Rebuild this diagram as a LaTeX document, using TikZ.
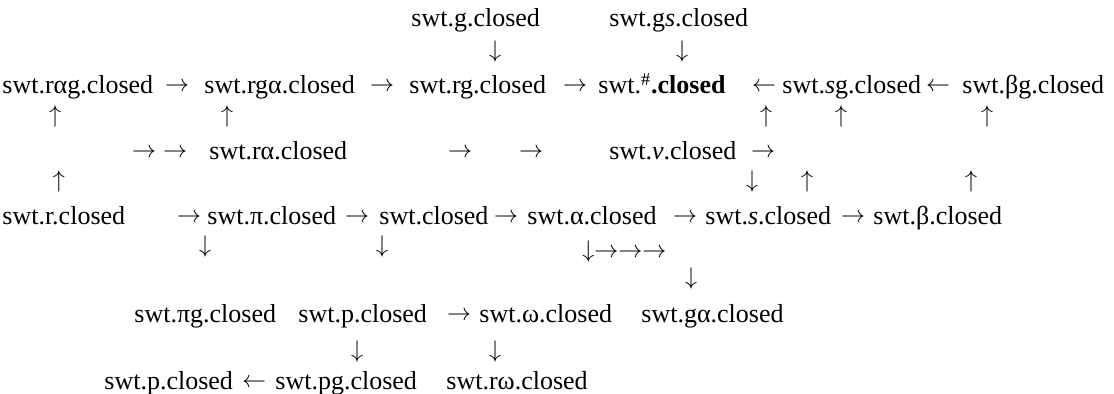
\documentclass[tikz,border=0pt]{standalone}
\usepackage{fontspec}
\setmainfont{Liberation Serif}
\begin{document}
\begin{tikzpicture}[x=0.5pt,y=-0.5pt,
    every node/.style={inner sep=0pt,font=\fontsize{13}{15.6}\selectfont},
    lbl/.style={anchor=base west},
    arr/.style={anchor=center}]
    \useasboundingbox (0,0) rectangle (1114,394);
    % top row
    \node (gcl) at (411,27) [lbl] {swt.g.closed};
    \node (gscl) at (609,27) [lbl] {swt.g\textit{s}.closed};
    \node (d1) at (495,52) [arr] {$\downarrow$};
    \node (d2) at (682,52) [arr] {$\downarrow$};
    % main row
    \node (ragcl) at (2,94) [lbl] {swt.rαg.closed};
    \node (h1) at (177,87) [arr] {$\rightarrow$};
    \node (rgacl) at (204,94) [lbl] {swt.rgα.closed};
    \node (h2) at (382,87) [arr] {$\rightarrow$};
    \node (rgcl) at (409,94) [lbl] {swt.rg.closed};
    \node (h3) at (575,87) [arr] {$\rightarrow$};
    \node (shcl) at (598,94) [lbl] {swt.\textsuperscript{\#}\textbf{.closed}};
    \node (h4) at (764,87) [arr] {$\leftarrow$};
    \node (sgcl) at (782,94) [lbl] {swt.\textit{s}g.closed};
    \node (h5) at (938,87) [arr] {$\leftarrow$};
    \node (bgcl) at (962,94) [lbl] {swt.βg.closed};
    \node (u1) at (55,117) [arr] {$\uparrow$};
    \node (u2) at (227,117) [arr] {$\uparrow$};
    \node (u3) at (766,117) [arr] {$\uparrow$};
    \node (u4) at (841,117) [arr] {$\uparrow$};
    \node (u5) at (987,117) [arr] {$\uparrow$};
    % middle row
    \node (h6) at (144,153) [arr] {$\rightarrow$};
    \node (h7) at (175,153) [arr] {$\rightarrow$};
    \node (racl) at (209,160) [lbl] {swt.rα.closed};
    \node (h8) at (460,153) [arr] {$\rightarrow$};
    \node (h9) at (531,153) [arr] {$\rightarrow$};
    \node (vcl) at (609,160) [lbl] {swt.\textit{v}.closed};
    \node (h10) at (763,153) [arr] {$\rightarrow$};
    \node (u6) at (59,182) [arr] {$\uparrow$};
    \node (d3) at (752,182) [arr] {$\downarrow$};
    \node (u7) at (807,182) [arr] {$\uparrow$};
    \node (u8) at (971,182) [arr] {$\uparrow$};
    % lower row
    \node (rcl) at (2,225) [lbl] {swt.r.closed};
    \node (h11) at (189,218) [arr] {$\rightarrow$};
    \node (picl) at (207,225) [lbl] {swt.π.closed};
    \node (h12) at (357,218) [arr] {$\rightarrow$};
    \node (cl) at (379,225) [lbl] {swt.closed};
    \node (h13) at (506,218) [arr] {$\rightarrow$};
    \node (acl) at (527,225) [lbl] {swt.α.closed};
    \node (h14) at (685,218) [arr] {$\rightarrow$};
    \node (scl) at (705,225) [lbl] {swt.\textit{s}.closed};
    \node (h15) at (853,218) [arr] {$\rightarrow$};
    \node (bcl) at (873,225) [lbl] {swt.β.closed};
    \node (d4) at (205,247) [arr] {$\downarrow$};
    \node (d5) at (382,247) [arr] {$\downarrow$};
    \node (d6) at (582,252) [anchor=west] {$\downarrow\rightarrow\rightarrow\rightarrow$};
    \node (d7) at (691,279) [arr] {$\downarrow$};
    % bottom rows
    \node (pigcl) at (134,323) [lbl] {swt.πg.closed};
    \node (pcl) at (298,323) [lbl] {swt.p.closed};
    \node (h16) at (459,316) [arr] {$\rightarrow$};
    \node (omcl) at (479,323) [lbl] {swt.ω.closed};
    \node (gacl) at (641,323) [lbl] {swt.gα.closed};
    \node (d8) at (357,352) [arr] {$\downarrow$};
    \node (d9) at (495,352) [arr] {$\downarrow$};
    \node (pcl2) at (104,390) [lbl] {swt.p.closed};
    \node (h17) at (254,383) [arr] {$\leftarrow$};
    \node (pgcl) at (275,390) [lbl] {swt.pg.closed};
    \node (romcl) at (446,390) [lbl] {swt.rω.closed};
\end{tikzpicture}
\end{document}
